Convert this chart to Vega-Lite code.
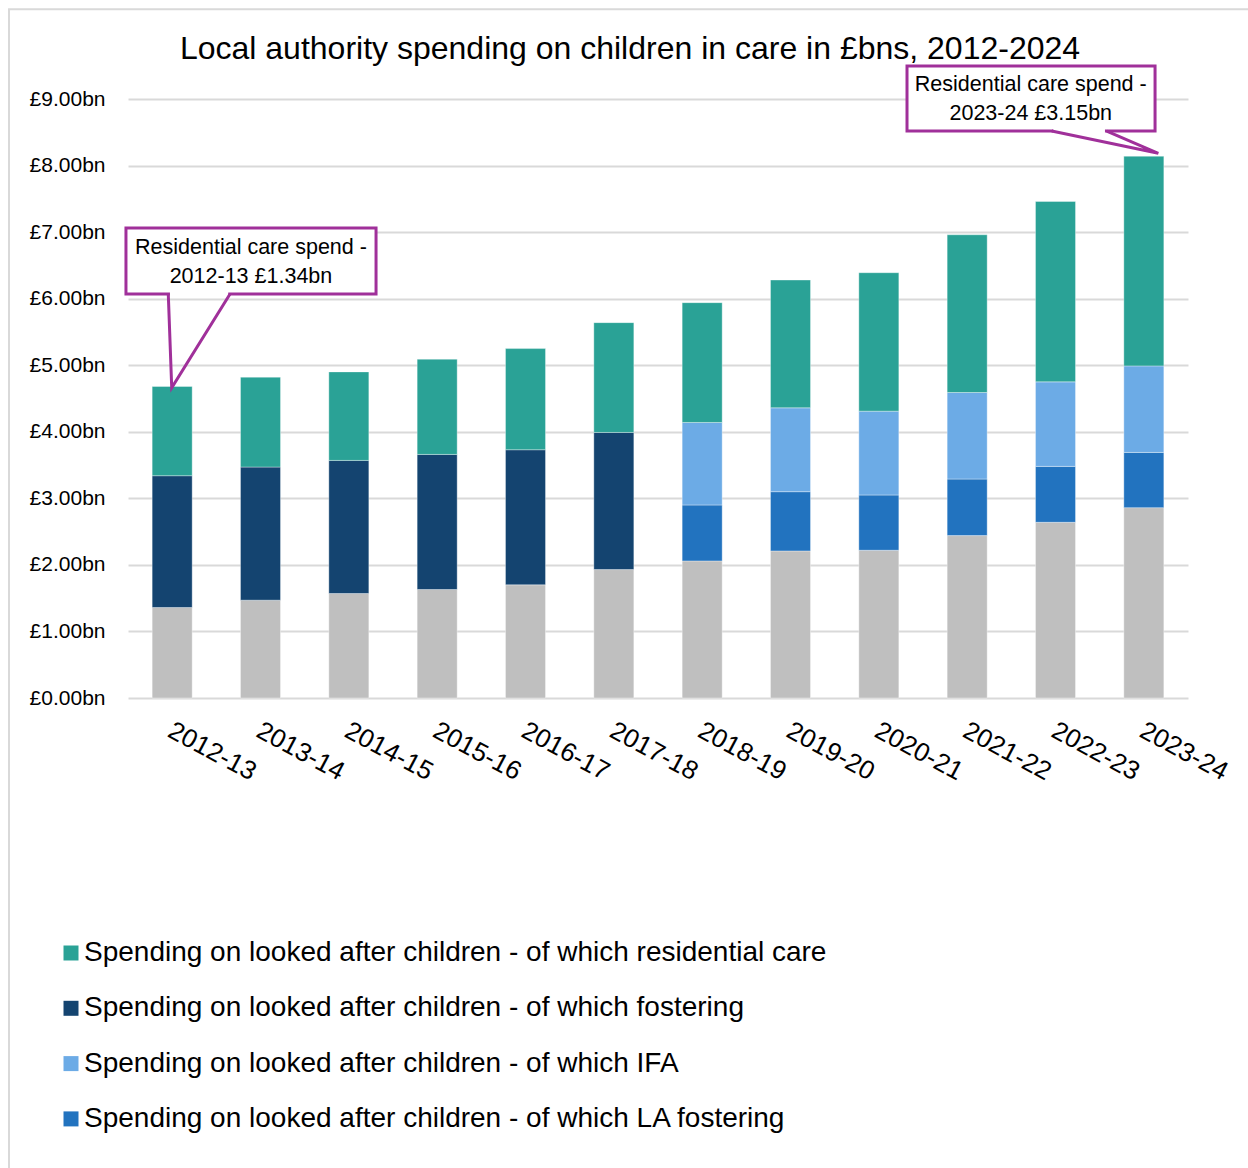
{
  "$schema": "https://vega.github.io/schema/vega-lite/v6.json",
  "width": 1060,
  "height": 599,
  "autosize": {"type": "none"},
  "padding": {"left": 128, "top": 99, "right": 60, "bottom": 470},
  "background": "white",
  "config": {"font": "Liberation Sans", "view": {"stroke": null}},
  "title": {
    "text": "Local authority spending on children in care in £bns, 2012-2024",
    "fontSize": 32,
    "fontWeight": "normal",
    "font": "Liberation Sans",
    "color": "#000000",
    "anchor": "middle",
    "frame": "group",
    "dx": -28,
    "offset": -57.5
  },
  "datasets": {
    "spend": [
      {"year": "2012-13", "category": "Other spending", "order": 0, "value": 1.36},
      {"year": "2012-13", "category": "Spending on looked after children - of which fostering", "order": 1, "value": 1.98},
      {"year": "2012-13", "category": "Spending on looked after children - of which residential care", "order": 3, "value": 1.34},
      {"year": "2013-14", "category": "Other spending", "order": 0, "value": 1.47},
      {"year": "2013-14", "category": "Spending on looked after children - of which fostering", "order": 1, "value": 2.0},
      {"year": "2013-14", "category": "Spending on looked after children - of which residential care", "order": 3, "value": 1.35},
      {"year": "2014-15", "category": "Other spending", "order": 0, "value": 1.57},
      {"year": "2014-15", "category": "Spending on looked after children - of which fostering", "order": 1, "value": 2.0},
      {"year": "2014-15", "category": "Spending on looked after children - of which residential care", "order": 3, "value": 1.33},
      {"year": "2015-16", "category": "Other spending", "order": 0, "value": 1.63},
      {"year": "2015-16", "category": "Spending on looked after children - of which fostering", "order": 1, "value": 2.03},
      {"year": "2015-16", "category": "Spending on looked after children - of which residential care", "order": 3, "value": 1.43},
      {"year": "2016-17", "category": "Other spending", "order": 0, "value": 1.7},
      {"year": "2016-17", "category": "Spending on looked after children - of which fostering", "order": 1, "value": 2.03},
      {"year": "2016-17", "category": "Spending on looked after children - of which residential care", "order": 3, "value": 1.52},
      {"year": "2017-18", "category": "Other spending", "order": 0, "value": 1.93},
      {"year": "2017-18", "category": "Spending on looked after children - of which fostering", "order": 1, "value": 2.06},
      {"year": "2017-18", "category": "Spending on looked after children - of which residential care", "order": 3, "value": 1.65},
      {"year": "2018-19", "category": "Other spending", "order": 0, "value": 2.06},
      {"year": "2018-19", "category": "Spending on looked after children - of which LA fostering", "order": 1, "value": 0.84},
      {"year": "2018-19", "category": "Spending on looked after children - of which IFA", "order": 2, "value": 1.24},
      {"year": "2018-19", "category": "Spending on looked after children - of which residential care", "order": 3, "value": 1.8},
      {"year": "2019-20", "category": "Other spending", "order": 0, "value": 2.21},
      {"year": "2019-20", "category": "Spending on looked after children - of which LA fostering", "order": 1, "value": 0.89},
      {"year": "2019-20", "category": "Spending on looked after children - of which IFA", "order": 2, "value": 1.26},
      {"year": "2019-20", "category": "Spending on looked after children - of which residential care", "order": 3, "value": 1.92},
      {"year": "2020-21", "category": "Other spending", "order": 0, "value": 2.22},
      {"year": "2020-21", "category": "Spending on looked after children - of which LA fostering", "order": 1, "value": 0.83},
      {"year": "2020-21", "category": "Spending on looked after children - of which IFA", "order": 2, "value": 1.26},
      {"year": "2020-21", "category": "Spending on looked after children - of which residential care", "order": 3, "value": 2.08},
      {"year": "2021-22", "category": "Other spending", "order": 0, "value": 2.44},
      {"year": "2021-22", "category": "Spending on looked after children - of which LA fostering", "order": 1, "value": 0.85},
      {"year": "2021-22", "category": "Spending on looked after children - of which IFA", "order": 2, "value": 1.3},
      {"year": "2021-22", "category": "Spending on looked after children - of which residential care", "order": 3, "value": 2.37},
      {"year": "2022-23", "category": "Other spending", "order": 0, "value": 2.64},
      {"year": "2022-23", "category": "Spending on looked after children - of which LA fostering", "order": 1, "value": 0.84},
      {"year": "2022-23", "category": "Spending on looked after children - of which IFA", "order": 2, "value": 1.27},
      {"year": "2022-23", "category": "Spending on looked after children - of which residential care", "order": 3, "value": 2.71},
      {"year": "2023-24", "category": "Other spending", "order": 0, "value": 2.86},
      {"year": "2023-24", "category": "Spending on looked after children - of which LA fostering", "order": 1, "value": 0.83},
      {"year": "2023-24", "category": "Spending on looked after children - of which IFA", "order": 2, "value": 1.3},
      {"year": "2023-24", "category": "Spending on looked after children - of which residential care", "order": 3, "value": 3.15}
    ],
    "frame": [
      {"u1": -1.347, "u2": 14, "v1": 10.35, "v2": -10}
    ],
    "boxes": [
      {"u1": -0.023, "u2": 2.808, "v1": 7.061, "v2": 6.07},
      {"u1": 8.819, "u2": 11.627, "v1": 9.495, "v2": 8.519}
    ],
    "covers": [
      {"u1": 0.475, "u2": 1.135, "v": 6.07},
      {"u1": 10.475, "u2": 11.06, "v": 8.519}
    ],
    "pointers": [
      {"id": 1, "o": 1, "u": 0.456, "v": 6.07},
      {"id": 1, "o": 2, "u": 0.495, "v": 4.66},
      {"id": 1, "o": 3, "u": 1.155, "v": 6.07},
      {"id": 2, "o": 1, "u": 10.457, "v": 8.519},
      {"id": 2, "o": 2, "u": 11.664, "v": 8.184},
      {"id": 2, "o": 3, "u": 11.08, "v": 8.519}
    ],
    "notes": [
      {"u": 1.392, "v": 6.546, "t": "Residential care spend -\n2012-13 £1.34bn"},
      {"u": 10.22, "v": 9.0, "t": "Residential care spend -\n2023-24  £3.15bn"}
    ]
  },
  "layer": [
    {
      "data": {"name": "spend"},
      "mark": {"type": "bar", "stroke": "#ffffff", "strokeOpacity": 0.35, "strokeWidth": 1},
      "encoding": {
        "x": {
          "field": "year",
          "type": "nominal",
          "sort": null,
          "title": null,
          "scale": {"paddingInner": 0.547, "paddingOuter": 0.2735},
          "axis": {
            "labelAngle": 28,
            "labelAlign": "left",
            "labelBaseline": "top",
            "labelFontSize": 26,
            "labelFont": "Liberation Sans",
            "labelColor": "#000000",
            "labelPadding": 19,
            "labelOffset": 4,
            "ticks": false,
            "domain": false,
            "grid": false
          }
        },
        "y": {
          "field": "value",
          "type": "quantitative",
          "stack": "zero",
          "title": null,
          "scale": {"domain": [0, 9], "nice": false},
          "axis": {
            "values": [0, 1, 2, 3, 4, 5, 6, 7, 8, 9],
            "labelExpr": "'£' + format(datum.value, '.2f') + 'bn'",
            "labelFontSize": 21,
            "labelFont": "Liberation Sans",
            "labelColor": "#000000",
            "labelPadding": 23,
            "ticks": false,
            "domain": false,
            "grid": true,
            "gridColor": "#D9D9D9",
            "gridWidth": 2
          }
        },
        "color": {
          "field": "category",
          "type": "nominal",
          "scale": {
            "domain": [
              "Spending on looked after children - of which residential care",
              "Spending on looked after children - of which fostering",
              "Spending on looked after children - of which IFA",
              "Spending on looked after children - of which LA fostering",
              "Other spending"
            ],
            "range": ["#2AA296", "#144470", "#6CABE6", "#2273BF", "#BFBFBF"]
          },
          "legend": {
            "values": [
              "Spending on looked after children - of which residential care",
              "Spending on looked after children - of which fostering",
              "Spending on looked after children - of which IFA",
              "Spending on looked after children - of which LA fostering"
            ],
            "title": null,
            "orient": "none",
            "legendX": -71,
            "legendY": 840,
            "direction": "vertical",
            "padding": 0,
            "symbolType": "square",
            "symbolSize": 225,
            "symbolStrokeWidth": 0,
            "labelFontSize": 28,
            "labelFont": "Liberation Sans",
            "labelColor": "#000000",
            "labelOffset": -1,
            "labelLimit": 0,
            "rowPadding": 27.3
          }
        },
        "order": {"field": "order", "type": "quantitative"}
      }
    },
    {
      "layer": [
        {
          "data": {"name": "frame"},
          "mark": {"type": "rect", "fill": null, "stroke": "#D9D9D9", "strokeWidth": 2},
          "encoding": {
            "x": {"field": "u1", "type": "quantitative", "scale": {"domain": [0, 12], "nice": false, "zero": false}, "axis": null, "title": null},
            "x2": {"field": "u2"},
            "y": {"field": "v1", "type": "quantitative", "scale": {"domain": [0, 9], "nice": false}, "title": null},
            "y2": {"field": "v2"}
          }
        },
        {
          "data": {"name": "boxes"},
          "mark": {"type": "rect", "fill": "#ffffff", "stroke": "#A0309A", "strokeWidth": 3},
          "encoding": {
            "x": {"field": "u1", "type": "quantitative", "scale": {"domain": [0, 12], "nice": false, "zero": false}, "axis": null, "title": null},
            "x2": {"field": "u2"},
            "y": {"field": "v1", "type": "quantitative", "scale": {"domain": [0, 9], "nice": false}, "title": null},
            "y2": {"field": "v2"}
          }
        },
        {
          "data": {"name": "covers"},
          "mark": {"type": "rule", "stroke": "#ffffff", "strokeWidth": 4},
          "encoding": {
            "x": {"field": "u1", "type": "quantitative", "scale": {"domain": [0, 12], "nice": false, "zero": false}, "axis": null, "title": null},
            "x2": {"field": "u2"},
            "y": {"field": "v", "type": "quantitative", "scale": {"domain": [0, 9], "nice": false}, "title": null}
          }
        },
        {
          "data": {"name": "pointers"},
          "mark": {"type": "line", "stroke": "#A0309A", "strokeWidth": 3, "strokeJoin": "miter"},
          "encoding": {
            "x": {"field": "u", "type": "quantitative", "scale": {"domain": [0, 12], "nice": false, "zero": false}, "axis": null, "title": null},
            "y": {"field": "v", "type": "quantitative", "scale": {"domain": [0, 9], "nice": false}, "title": null},
            "detail": {"field": "id", "type": "nominal"},
            "order": {"field": "o", "type": "quantitative"}
          }
        },
        {
          "data": {"name": "notes"},
          "mark": {"type": "text", "fontSize": 21.5, "font": "Liberation Sans", "color": "#000000", "align": "center", "baseline": "middle", "lineBreak": "\n", "lineHeight": 28.5, "dy": -14},
          "encoding": {
            "x": {"field": "u", "type": "quantitative", "scale": {"domain": [0, 12], "nice": false, "zero": false}, "axis": null, "title": null},
            "y": {"field": "v", "type": "quantitative", "scale": {"domain": [0, 9], "nice": false}, "title": null},
            "text": {"field": "t", "type": "nominal"}
          }
        }
      ]
    }
  ],
  "resolve": {"scale": {"x": "independent"}}
}
